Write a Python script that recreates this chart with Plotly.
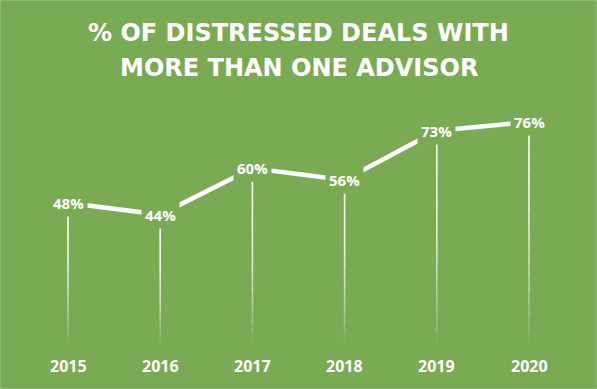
import plotly.graph_objects as go

years = ["2015", "2016", "2017", "2018", "2019", "2020"]
values = [48, 44, 60, 56, 73, 76]
labels = ["48%", "44%", "60%", "56%", "73%", "76%"]
title_lines = ["% OF DISTRESSED DEALS WITH", "MORE THAN ONE ADVISOR"]

BG = "#7AAB54"
xs = list(range(len(years)))

fig = go.Figure()
fig.add_trace(go.Scatter(x=xs, y=values, mode="lines",
                         line=dict(color="white", width=4.5),
                         hoverinfo="skip", showlegend=False))

shapes = []
nseg = 16
for x, v in zip(xs, values):
    top = v - 4.6
    bottom = -0.5
    step = (top - bottom) / nseg
    for i in range(nseg):
        y0 = top - i * step
        y1 = top - (i + 1) * step
        t = i / (nseg - 1)
        op = 1.0 - 0.92 * t ** 1.8
        shapes.append(dict(type="line", xref="x", yref="y", x0=x, x1=x, y0=y0, y1=y1,
                           line=dict(color="rgba(255,255,255,%.3f)" % op, width=1.6)))

shapes.append(dict(type="rect", xref="paper", yref="paper", x0=0, x1=1, y0=0, y1=1,
                   line=dict(color="#8DB96C", width=2), fillcolor="rgba(0,0,0,0)"))

annotations = []
for x, v, t in zip(xs, values, labels):
    annotations.append(dict(x=x, y=v, xref="x", yref="y", text="<b>%s</b>" % t,
                            showarrow=False, bgcolor=BG, borderpad=3,
                            font=dict(family="Open Sans", size=15, color="white")))
for x, yr in zip(xs, years):
    annotations.append(dict(x=x, y=-8.3, xref="x", yref="y", text="<b>%s</b>" % yr,
                            showarrow=False,
                            font=dict(family="Open Sans", size=16, color="white")))
for line, ypx in zip(title_lines, [33, 67.5]):
    annotations.append(dict(x=0.5, y=1 - ypx / 389, xref="paper", yref="paper",
                            yanchor="middle", text="<b>%s</b>" % line,
                            showarrow=False, align="center",
                            font=dict(family="DejaVu Sans", size=24, color="white")))

fig.update_layout(
    width=597, height=389,
    margin=dict(l=0, r=0, t=0, b=0),
    paper_bgcolor=BG, plot_bgcolor=BG,
    xaxis=dict(range=[-0.7375, 5.7375], visible=False, fixedrange=True),
    yaxis=dict(range=[-16.3, 118.2], visible=False, fixedrange=True),
    shapes=shapes, annotations=annotations, showlegend=False,
)
fig.write_html("out.html", config={"displayModeBar": False},
               post_script="document.body.style.margin='0';")
